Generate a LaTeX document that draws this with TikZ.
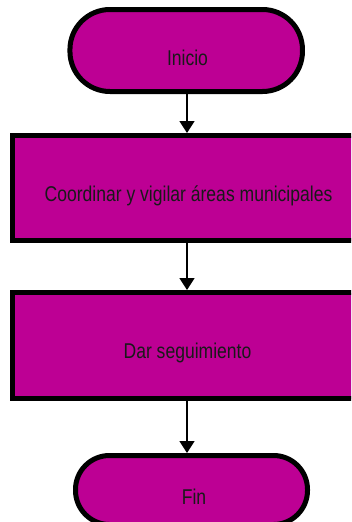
\documentclass[tikz,border=0pt]{standalone}
\usepackage{fontspec}
\newfontfamily\narrowsf[FakeStretch=0.82]{Liberation Sans}
\usetikzlibrary{arrows.meta}
\definecolor{boxfill}{RGB}{189,0,148}
\begin{document}
\begin{tikzpicture}[x=1pt,y=-1pt,
  terminal/.style={draw=black, line width=5pt, fill=boxfill, rounded corners=#1, inner sep=0pt},
  process/.style={draw=black, line width=5pt, fill=boxfill, inner sep=0pt},
  lbl/.style={anchor=base, inner sep=0pt, font=\narrowsf\fontsize{21.4}{25}\selectfont, text=black!90},
  flow/.style={draw=black, line width=1.6pt, -{Triangle[width=15pt,length=12pt]}}]
\useasboundingbox (0,0) rectangle (351,522);
\clip (0,0) rectangle (351,522);
\node[terminal=40pt, minimum width=232.5pt, minimum height=82pt] (ini) at (186.2,50.5) {};
\node[process, minimum width=349pt, minimum height=105pt] (b1) at (187,188) {};
\node[process, minimum width=349pt, minimum height=106pt] (b2) at (187,345.5) {};
\node[terminal=34pt, minimum width=232pt, minimum height=69pt] (fin) at (191.5,490) {};
\node[lbl] (t0) at (187.5,65) {Inicio};
\node[lbl] (t1) at (188.5,201) {Coordinar y vigilar áreas municipales};
\node[lbl] (t2) at (187.5,358) {Dar seguimiento};
\node[lbl] (t3) at (194,504) {Fin};
\draw[flow] (ini.south -| b1.north) -- (b1.north);
\draw[flow] (b1.south) -- (b2.north);
\draw[flow] (b2.south) -- (b2.south |- fin.north);
\end{tikzpicture}
\end{document}
